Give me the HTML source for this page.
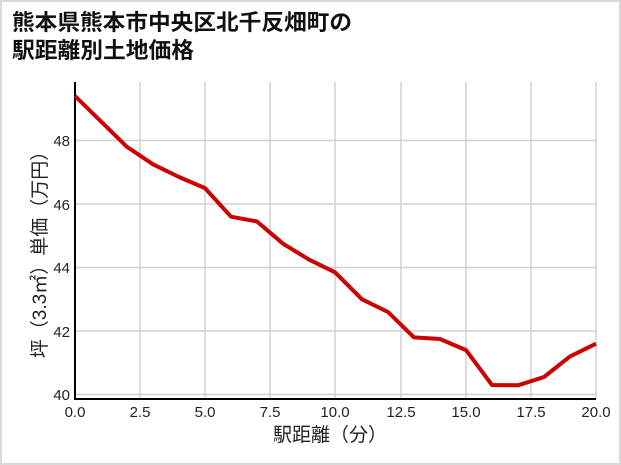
<!DOCTYPE html>
<html><head><meta charset="utf-8"><style>
html,body{margin:0;padding:0;background:#fff}
body{width:621px;height:465px;overflow:hidden;position:relative}
.frame{position:absolute;left:0;top:0;width:617px;height:461px;border:2px solid #d9d9d9}
svg{position:absolute;left:0;top:0}
text{font-family:"Liberation Sans","Noto Sans CJK JP",sans-serif}
</style></head><body>
<div class="frame"></div>
<svg width="621" height="465" viewBox="0 0 621 465">
<text x="12" y="30" font-size="22" font-weight="bold" fill="#111" textLength="340" lengthAdjust="spacingAndGlyphs">熊本県熊本市中央区北千反畑町の</text>
<text x="12" y="58" font-size="22" font-weight="bold" fill="#111" textLength="182" lengthAdjust="spacingAndGlyphs">駅距離別土地価格</text>
<g stroke="#d0d0d0" stroke-width="1.5">
<line x1="140" y1="82" x2="140" y2="399"/><line x1="205" y1="82" x2="205" y2="399"/>
<line x1="270" y1="82" x2="270" y2="399"/><line x1="335" y1="82" x2="335" y2="399"/>
<line x1="401" y1="82" x2="401" y2="399"/><line x1="466" y1="82" x2="466" y2="399"/>
<line x1="531" y1="82" x2="531" y2="399"/><line x1="596" y1="82" x2="596" y2="399"/>
<line x1="75" y1="394.5" x2="596" y2="394.5"/><line x1="75" y1="331" x2="596" y2="331"/>
<line x1="75" y1="267.5" x2="596" y2="267.5"/><line x1="75" y1="204" x2="596" y2="204"/>
<line x1="75" y1="140.5" x2="596" y2="140.5"/>
</g>
<line x1="75" y1="82" x2="75" y2="400" stroke="#000" stroke-width="2"/>
<line x1="74" y1="399" x2="596" y2="399" stroke="#000" stroke-width="2"/>
<polyline fill="none" stroke="#cc0000" stroke-width="4" stroke-linejoin="round" points="75,96 101,121.4 127,146.9 153,164.3 179,177 205,188.1 231,216.7 257,221.5 283,243.7 309,259.6 335,272.3 362,299.3 388,312 414,337.4 440,339 466,350.1 492,385 518,385.3 544,377 570,356.4 596,343.7"/>
<g font-size="15" fill="#222" text-anchor="end">
<text x="70" y="400">40</text><text x="70" y="337">42</text><text x="70" y="273">44</text>
<text x="70" y="210">46</text><text x="70" y="146">48</text>
</g>
<g font-size="15" fill="#222" text-anchor="middle">
<text x="75" y="417">0.0</text><text x="140" y="417">2.5</text><text x="205" y="417">5.0</text>
<text x="270" y="417">7.5</text><text x="335" y="417">10.0</text><text x="401" y="417">12.5</text>
<text x="466" y="417">15.0</text><text x="596" y="417">20.0</text><text x="531" y="417">17.5</text>
</g>
<text x="330" y="441" font-size="19" fill="#222" text-anchor="middle">駅距離（分）</text>
<text transform="translate(46,250) rotate(-90)" font-size="19" fill="#222" text-anchor="middle">坪（3.3㎡）単価（万円）</text>
</svg>
</body></html>
